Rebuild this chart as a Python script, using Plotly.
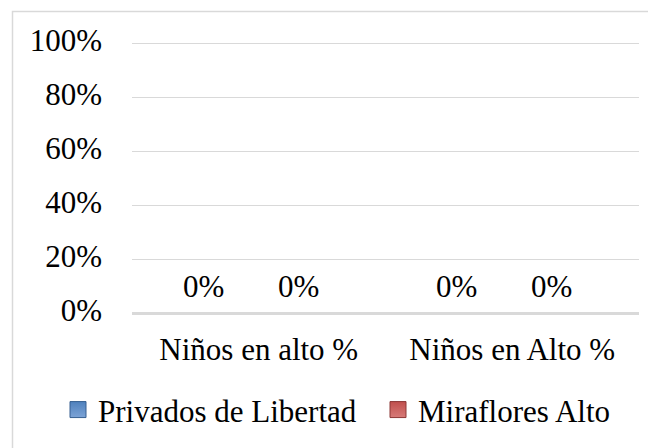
import plotly.graph_objects as go

categories = ["Niños en alto %", "Niños en Alto %"]
series_names = ["Privados de Libertad", "Miraflores Alto"]
privados = [0.0, 0.0]
miraflores = [0.0, 0.0]
series_values = [privados, miraflores]
series_colors = ["#4F81BD", "#C0504D"]
series_light = ["#7CA3D6", "#D77A78"]
series_dark = ["#365F91", "#8C3836"]
y_ticks = [0, 0.2, 0.4, 0.6, 0.8, 1.0]

# the page body has an 8px margin, so the figure is sized to the visible area
PAGE_OFF = 8
W, H = 656 - PAGE_OFF, 448 - PAGE_OFF
L, R, T, B = 132 - PAGE_OFF, 17, 42 - PAGE_OFF, 134.5
pw = W - L - R
ph = H - T - B
FONT = "Liberation Serif"
FS = 31

bargap = 0.25
n_cat = len(categories)
n_ser = len(series_values)
cat_px = pw / n_cat
bar_px = cat_px * (1 - bargap) / n_ser
legend_widths = [275, None]

fig = go.Figure()
for name, vals, col in zip(series_names, series_values, series_colors):
    fig.add_trace(go.Bar(
        x=categories, y=vals, name=name, legendgroup=name, showlegend=False,
        marker=dict(color=col, line=dict(width=0)),
        hoverinfo="skip",
    ))
# legend entries (square swatches like the source)
for name, col, light, dark, lw in zip(series_names, series_colors, series_light,
                                      series_dark, legend_widths):
    fig.add_trace(go.Scatter(
        x=[None], y=[None], mode="markers", name=name, legendgroup=name,
        legendwidth=lw,
        marker=dict(symbol="square", size=16, color=col,
                    gradient=dict(type="vertical", color=light),
                    line=dict(color=dark, width=1)),
        hoverinfo="skip",
    ))

annotations = []
for i, vals in enumerate(series_values):
    off = (i - (n_ser - 1) / 2) * bar_px - 8
    for c, v in zip(categories, vals):
        annotations.append(dict(
            x=c, y=v, xref="x", yref="y", text=f"{v:.0%}", showarrow=False,
            xshift=off, yshift=7, yanchor="bottom",
            font=dict(family=FONT, size=FS, color="#000000"),
        ))

fig.update_layout(
    template="none",
    width=W, height=H,
    margin=dict(l=L, r=R, t=T, b=B, pad=0, autoexpand=False),
    paper_bgcolor="white", plot_bgcolor="white",
    barmode="group", bargap=bargap, bargroupgap=0,
    font=dict(family=FONT, size=FS, color="#000000"),
    showlegend=True,
    legend=dict(
        orientation="h", x=(50 - L) / pw, xanchor="left", y=-0.258, yanchor="top",
        font=dict(family=FONT, size=FS, color="#000000"),
        bgcolor="rgba(0,0,0,0)", itemclick=False, itemdoubleclick=False,
        tracegroupgap=0, borderwidth=0,
    ),
    annotations=annotations,
    shapes=[dict(
        type="rect", xref="paper", yref="paper",
        x0=(4.5 - L) / pw, x1=2, y0=-2, y1=(H - B - 3.5) / ph,
        line=dict(color="#D9D9D9", width=1.5), fillcolor="rgba(0,0,0,0)",
        layer="below",
    )],
)
fig.update_yaxes(
    range=[0, 1.004], tickvals=y_ticks, tickformat=".0%", automargin=False,
    showgrid=True, gridcolor="#D9D9D9", gridwidth=1,
    zeroline=True, zerolinecolor="#D9D9D9", zerolinewidth=2.5,
    showline=False, ticks="", ticklabelstandoff=29, ticklabelshift=-3,
    tickfont=dict(family=FONT, size=FS, color="#000000"),
    fixedrange=True,
)
fig.update_xaxes(
    showgrid=False, showline=False, ticks="", ticklabelstandoff=15, automargin=False,
    tickfont=dict(family=FONT, size=FS, color="#000000"),
    fixedrange=True,
)
fig.write_html("out.html")
